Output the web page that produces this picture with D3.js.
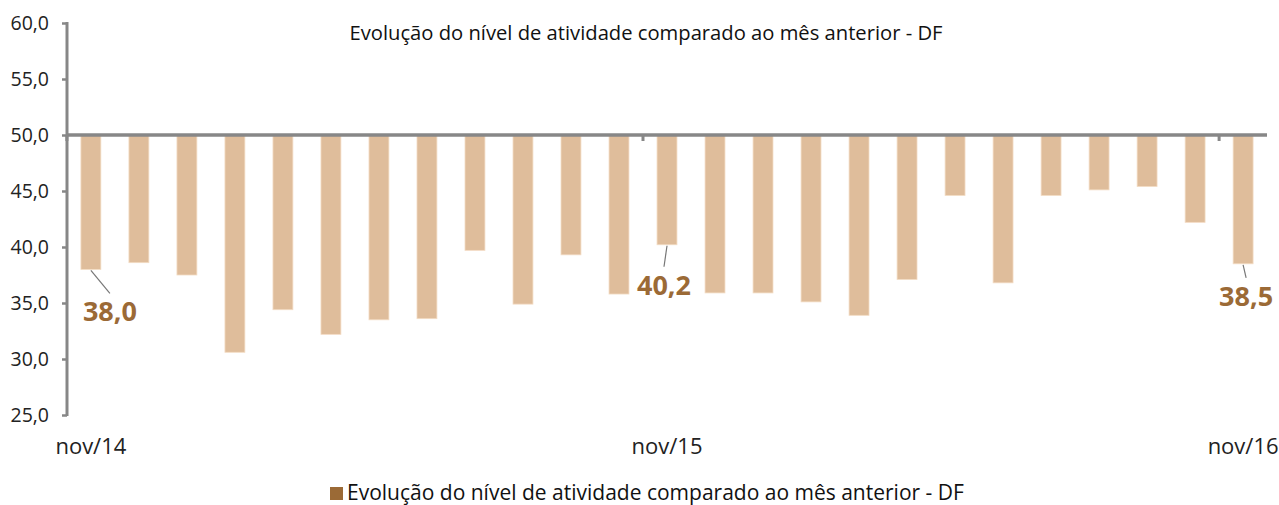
<!DOCTYPE html>
<html>
<head>
<meta charset="utf-8">
<script src="https://cdn.jsdelivr.net/npm/d3@7"></script>
<style>
	body { margin: 0; background: #fff; }
	text { font-family: "Open Sans", sans-serif; }
</style>
</head>
<body>
<div id="chart"></div>
<script>
var months = ["nov/14","dez/14","jan/15","fev/15","mar/15","abr/15","mai/15","jun/15","jul/15","ago/15","set/15","out/15",
	"nov/15","dez/15","jan/16","fev/16","mar/16","abr/16","mai/16","jun/16","jul/16","ago/16","set/16","out/16","nov/16"];
var values = [38.0, 38.6, 37.5, 30.6, 34.4, 32.2, 33.5, 33.6, 39.7, 34.9, 39.3, 35.8,
	40.2, 35.9, 35.9, 35.1, 33.9, 37.1, 44.6, 36.8, 44.6, 45.1, 45.4, 42.2, 38.5];
var tickLabels = ["nov/14", "nov/15", "nov/16"];
var yTicks = [25, 30, 35, 40, 45, 50, 55, 60];
// which bars get a value label, and where the label sits from the bar end
var labelled = [
	{month: "nov/14", dx: 19, dy: 44},
	{month: "nov/15", dx: -3, dy: 42},
	{month: "nov/16", dx: 3, dy: 34}
];
var title = "Evolução do nível de atividade comparado ao mês anterior - DF";

var W = 1279, H = 505;
var AXIS = "#878787", BAR = "#dfbd9b", DARK = "#9b6a36";

var svg = d3.select("#chart").append("svg")
	.attr("width", W)
	.attr("height", H);

var x = d3.scaleBand()
	.domain(months)
	.range([67, 1267])
	.paddingInner(0.585)
	.paddingOuter(0.29);

var y = d3.scaleLinear()
	.domain([25, 60])
	.range([415, 23]);

var fmt = v => d3.format(".1f")(v).replace(".", ",");

// y axis
var yAxis = svg.append("g")
	.attr("transform", "translate(67,0)")
	.call(d3.axisLeft(y).tickValues(yTicks).tickSize(5).tickPadding(13).tickFormat(fmt));
yAxis.select(".domain").attr("stroke", AXIS).attr("stroke-width", 3).attr("d", `M0,${y(60) - 1}V${y(25) + 1}`);
yAxis.selectAll(".tick line").attr("stroke", AXIS).attr("stroke-width", 2.5);
yAxis.selectAll(".tick text").attr("fill", "#222").style("font-size", "19.5px").style("font-family", "Open Sans, sans-serif");

// bars hanging from 50
svg.append("g").selectAll("rect")
	.data(values)
	.enter()
	.append("rect")
	.attr("x", (d, i) => x(months[i]))
	.attr("y", y(50))
	.attr("width", x.bandwidth())
	.attr("height", d => y(d) - y(50))
	.attr("fill", BAR)
	.attr("stroke", "#f3dcc4")
	.attr("stroke-width", 0.8);

// category axis at 50
var step = x.step();
var xAxisG = svg.append("g").attr("transform", `translate(0,${y(50)})`);
xAxisG.append("line")
	.attr("x1", 67).attr("x2", 1267)
	.attr("stroke", AXIS).attr("stroke-width", 3.5);
xAxisG.selectAll(".tk")
	.data(tickLabels)
	.enter()
	.append("line")
	.attr("x1", d => x(d) - (step - x.bandwidth()) / 2)
	.attr("x2", d => x(d) - (step - x.bandwidth()) / 2)
	.attr("y1", 0).attr("y2", 6)
	.attr("stroke", AXIS).attr("stroke-width", 3);

svg.append("g").selectAll("text")
	.data(tickLabels)
	.enter()
	.append("text")
	.attr("x", d => x(d) + x.bandwidth() / 2)
	.attr("y", 454)
	.attr("text-anchor", "middle")
	.attr("fill", "#222")
	.style("font-size", "22px")
	.text(d => d);

// value labels with leader lines
var lab = svg.append("g").selectAll("g")
	.data(labelled)
	.enter()
	.append("g");
lab.append("line")
	.attr("x1", d => x(d.month) + x.bandwidth() / 2)
	.attr("y1", d => y(values[months.indexOf(d.month)]) + 1)
	.attr("x2", d => x(d.month) + x.bandwidth() / 2 + d.dx)
	.attr("y2", d => y(values[months.indexOf(d.month)]) + d.dy - 20)
	.attr("stroke", "#777")
	.attr("stroke-width", 1.2);
lab.append("text")
	.attr("x", d => x(d.month) + x.bandwidth() / 2 + d.dx)
	.attr("y", d => y(values[months.indexOf(d.month)]) + d.dy + 8)
	.attr("text-anchor", "middle")
	.attr("fill", DARK)
	.style("font-size", "27px")
	.style("font-weight", "bold")
	.text(d => fmt(values[months.indexOf(d.month)]));

// title
svg.append("text")
	.attr("x", 646)
	.attr("y", 40)
	.attr("text-anchor", "middle")
	.attr("fill", "#111")
	.style("font-size", "20.2px")
	.text(title);

// legend
var leg = svg.append("g").attr("transform", "translate(330,487)");
leg.append("rect")
	.attr("width", 13).attr("height", 13)
	.attr("fill", DARK);
leg.append("text")
	.attr("x", 17)
	.attr("y", 13)
	.attr("fill", "#111")
	.style("font-size", "21px")
	.text(title);
</script>
</body>
</html>
